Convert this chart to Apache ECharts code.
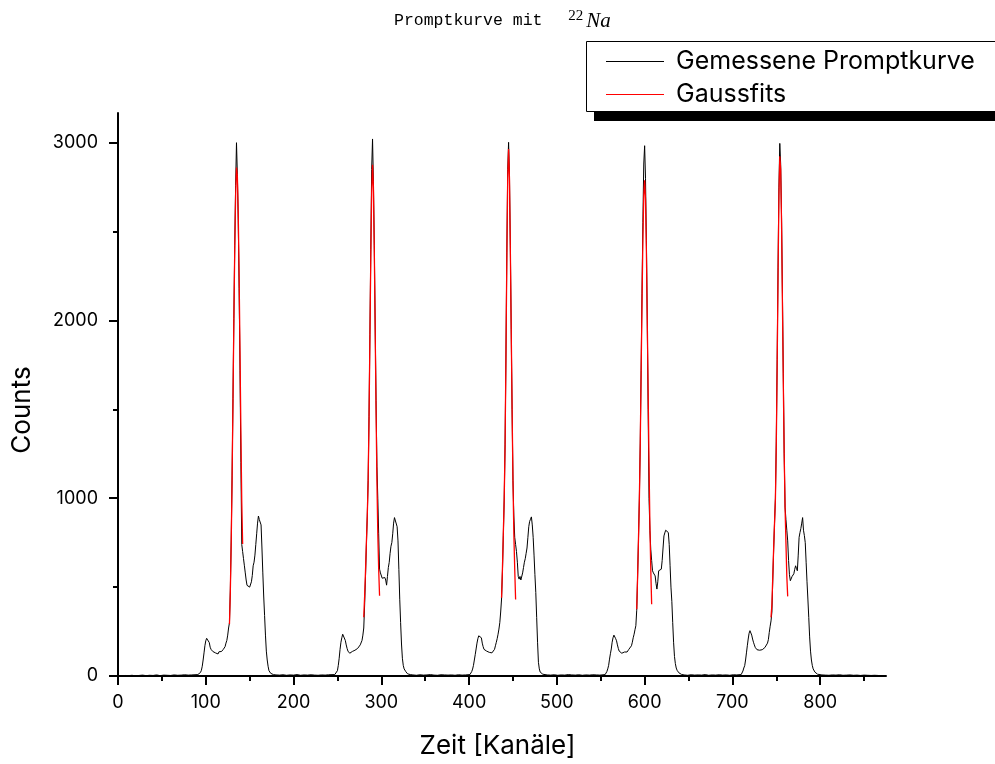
<!DOCTYPE html>
<html>
<head>
<meta charset="utf-8">
<script src="https://cdn.jsdelivr.net/npm/echarts@6/dist/echarts.min.js"></script>
<style>
html,body{margin:0;padding:0;background:#fff;}
#chart{width:995px;height:764px;}
</style>
</head>
<body>
<div id="chart"></div>
<script>
// ---- Data (channel = start + index*step) ----
const xTickLabels = [0, 100, 200, 300, 400, 500, 600, 700, 800];
const xMinorTicks = [50, 150, 250, 350, 450, 550, 650, 750, 850];
const yTickLabels = [0, 1000, 2000, 3000];
const yMinorTicks = [500, 1500, 2500];

// baseline (noise) segments, sampled every 4 channels
const baseStep = 4;
const base0Start = 0;
const base0 = [2,1,3,2,4,1,3,5,2,4,3,6,2,5,4,3,6,4,5,7,5,6];
const base1Start = 180;
const base1 = [6,5,7,4,6,5,8,4,6,5,7,5,4,6,5,7];
const base2Start = 336;
const base2 = [6,4,7,5,6,8,5,4,7,6,5,6,4,7,5,6];
const base3Start = 489;
const base3 = [6,5,7,4,6,5,8,6,5,7,4,6,5,7,6,5];
const base4Start = 645;
const base4 = [6,4,7,5,6,5,8,4,6,5,7,5,6,4,7,6];
const base5Start = 802;
const base5 = [6,5,4,6,5,7,4,5,6,4,5,3,5,4,3,4,3];

// peak groups, one value per channel
const peak1Start = 91;
const peak1 = [8,10,14,20,32,55,90,130,170,198,
  212,222,212,188,162,150,142,138,135,132,
  130,126,128,124,136,130,128,138,145,150,
  145,165,185,200,230,270,300,490,770,1130,
  1560,2010,2420,2760,3000,2820,2560,2180,1720,1200,
  740,700,660,620,580,540,510,500,515,500,
  505,530,565,620,640,680,740,800,860,900,
  880,890,850,720,580,450,340,230,140,90,
  55,30,20,15,12,9,8];
const peak2Start = 247;
const peak2 = [8,10,15,30,60,100,150,190,215,235,
  241,230,200,175,155,140,135,128,125,132,
  138,130,140,145,150,148,155,160,165,175,
  180,200,230,270,400,560,740,900,1100,1460,
  1920,2400,2850,3021,2780,2420,1980,1550,1180,1000,
  800,601,580,573,550,545,560,554,540,511,
  560,610,639,690,730,751,800,860,891,885,
  882,840,760,600,432,300,180,100,60,40,
  30,24,18,12,10,9,8];
const peak3Start = 401;
const peak3 = [8,15,25,39,60,90,120,152,185,210,
  226,232,236,215,185,165,150,145,142,140,
  130,138,133,128,140,130,124,135,150,170,
  189,210,235,264,300,360,433,590,790,990,
  1300,1800,2380,2850,3002,2820,2420,1950,1500,1100,
  900,780,740,700,640,560,545,560,540,536,
  580,610,640,660,690,720,780,840,870,882,
  895,850,780,680,570,470,330,190,77,40,
  22,16,12,10,9,8];
const peak4Start = 555;
const peak4 = [8,15,25,40,60,95,125,152,190,215,
  230,225,210,198,175,155,140,133,135,128,
  130,129,135,130,138,135,142,150,155,160,
  170,190,215,235,260,283,370,560,770,1000,
  1310,1720,2150,2550,2880,2983,2800,2450,2000,1500,
  1000,820,713,650,592,580,570,563,520,489,
  530,592,600,595,601,650,720,788,805,820,
  830,825,807,740,620,500,420,300,190,110,
  70,45,32,24,18,12,10,9,8];
const peak5Start = 710;
const peak5 = [8,15,28,45,58,90,130,170,208,240,
  255,250,230,208,190,175,161,150,148,145,
  142,145,140,150,148,152,155,160,165,170,
  185,205,245,280,310,360,540,710,860,1000,
  1320,1780,2300,2750,2996,2880,2580,2150,1700,1250,
  950,880,820,760,650,570,536,545,560,554,
  575,600,620,605,592,680,780,807,830,860,
  891,820,790,750,640,530,433,330,220,140,
  90,60,40,30,22,15,12,10,8];

// Gauss fits (one value per channel)
const fit1Start = 127;
const fit1 = [292,480,760,1120,1550,2000,2400,2700,2860,2810,2600,2250,1820,1380,980,742];
const fit2Start = 280;
const fit2 = [330,450,590,750,900,1100,1450,1900,2350,2720,2876,2750,2400,1950,1500,1100,800,600,451];
const fit3Start = 437;
const fit3 = [440,600,800,994,1300,1800,2350,2800,2964,2800,2400,1950,1500,1100,800,600,430];
const fit4Start = 591;
const fit4 = [376,560,770,994,1300,1700,2100,2450,2700,2788,2680,2400,2000,1600,1200,850,600,404];
const fit5Start = 744;
const fit5 = [330,400,560,720,860,994,1300,1750,2250,2700,2923,2850,2550,2100,1650,1250,950,750,560,448];

// ---- build series data ----
function seg(start, step, vals) { return vals.map((v, i) => [start + i * step, v]); }
const measured = [].concat(
  seg(base0Start, baseStep, base0), seg(peak1Start, 1, peak1),
  seg(base1Start, baseStep, base1), seg(peak2Start, 1, peak2),
  seg(base2Start, baseStep, base2), seg(peak3Start, 1, peak3),
  seg(base3Start, baseStep, base3), seg(peak4Start, 1, peak4),
  seg(base4Start, baseStep, base4), seg(peak5Start, 1, peak5),
  seg(base5Start, baseStep, base5)
).sort((a, b) => a[0] - b[0]);
const fits = [
  seg(fit1Start, 1, fit1), seg(fit2Start, 1, fit2), seg(fit3Start, 1, fit3),
  seg(fit4Start, 1, fit4), seg(fit5Start, 1, fit5)
];

const SANS = 'Inter';
const X_MAX = 875, Y_MAX = 3167;

const chart = echarts.init(document.getElementById('chart'), null, {renderer: 'canvas'});

const axisCommon = {
  axisLine: {show: true, onZero: false, lineStyle: {color: '#000', width: 2}},
  splitLine: {show: false},
  axisTick: {show: true, inside: false, lineStyle: {color: '#000', width: 2}},
};
const plain = v => String(v);

const option = {
  animation: false,
  backgroundColor: '#fff',
  title: {
    text: '{m|Promptkurve mit  }{s|22}{i|Na}',
    left: 389, top: 4,
    textStyle: {
      fontWeight: 'normal',
      rich: {
        m: {fontFamily: 'Liberation Mono', fontWeight: 'normal', fontSize: 16.5, color: '#000', lineHeight: 24},
        s: {fontFamily: 'Liberation Serif', fontWeight: 'normal', fontSize: 15, color: '#000', verticalAlign: 'top', lineHeight: 15, padding: [0, 3, 0, 6]},
        i: {fontFamily: 'Liberation Serif', fontWeight: 'normal', fontStyle: 'italic', fontSize: 21, color: '#000', lineHeight: 24}
      }
    }
  },
  legend: {
    data: ['Gemessene Promptkurve', 'Gaussfits'],
    orient: 'vertical',
    left: 586, top: 41,
    padding: [7, 20, 4, 20],
    itemGap: 6,
    icon: 'rect',
    itemWidth: 58, itemHeight: 1,
    backgroundColor: 'transparent',
    borderWidth: 0,
    z: 10,
    textStyle: {fontFamily: SANS, fontSize: 25, color: '#000', lineHeight: 27, padding: [0, 0, 0, 7]}
  },
  grid: {left: 118, right: 109, top: 113, bottom: 88, containLabel: false},
  xAxis: [
    Object.assign({}, axisCommon, {
      type: 'value', min: 0, max: X_MAX, position: 'bottom',
      axisTick: {show: true, length: 9, customValues: xTickLabels, lineStyle: {color: '#000', width: 2}},
      axisLabel: {customValues: xTickLabels, formatter: plain, fontFamily: SANS, fontSize: 18, color: '#000', margin: 18}
    }),
    Object.assign({}, axisCommon, {
      type: 'value', min: 0, max: X_MAX, position: 'bottom', offset: 0,
      axisLine: {show: false},
      axisTick: {show: true, length: 5, customValues: xMinorTicks, lineStyle: {color: '#000', width: 2}},
      axisLabel: {show: false}
    })
  ],
  yAxis: [
    Object.assign({}, axisCommon, {
      type: 'value', min: 0, max: Y_MAX, position: 'left',
      axisTick: {show: true, length: 9, customValues: yTickLabels, lineStyle: {color: '#000', width: 2}},
      axisLabel: {customValues: yTickLabels, formatter: plain, fontFamily: SANS, fontSize: 18, color: '#000', margin: 20}
    }),
    Object.assign({}, axisCommon, {
      type: 'value', min: 0, max: Y_MAX, position: 'left', offset: 0,
      axisLine: {show: false},
      axisTick: {show: true, length: 5, customValues: yMinorTicks, lineStyle: {color: '#000', width: 2}},
      axisLabel: {show: false}
    })
  ],
  graphic: [
    // legend drop shadow (solid black, offset) and legend box running off the right edge
    {type: 'rect', z: 1, shape: {x: 594, y: 50, width: 420, height: 71}, style: {fill: '#000'}},
    {type: 'rect', z: 2, shape: {x: 586.5, y: 41.5, width: 430, height: 70}, style: {fill: '#fff', stroke: '#000', lineWidth: 1}},
    {type: 'text', left: 'center', top: 733, style: {text: 'Zeit [Kanäle]', font: '26px Inter', fill: '#000'}},
    {type: 'text', rotation: Math.PI / 2, x: 9, y: 410,
      style: {text: 'Counts', font: '26px Inter', fill: '#000', align: 'center', verticalAlign: 'top'}}
  ],
  series: [
    {
      name: 'Gemessene Promptkurve', type: 'line', data: measured,
      xAxisIndex: 0, yAxisIndex: 0,
      showSymbol: false, symbol: 'none', sampling: null,
      lineStyle: {color: '#000', width: 1}, itemStyle: {color: '#000'}, z: 2
    }
  ].concat(fits.map(d => ({
    name: 'Gaussfits', type: 'line', data: d,
    xAxisIndex: 0, yAxisIndex: 0,
    showSymbol: false, symbol: 'none',
    lineStyle: {color: '#ff0000', width: 1.3}, itemStyle: {color: '#ff0000'}, z: 3
  })))
};
chart.setOption(option);
</script>
</body>
</html>
